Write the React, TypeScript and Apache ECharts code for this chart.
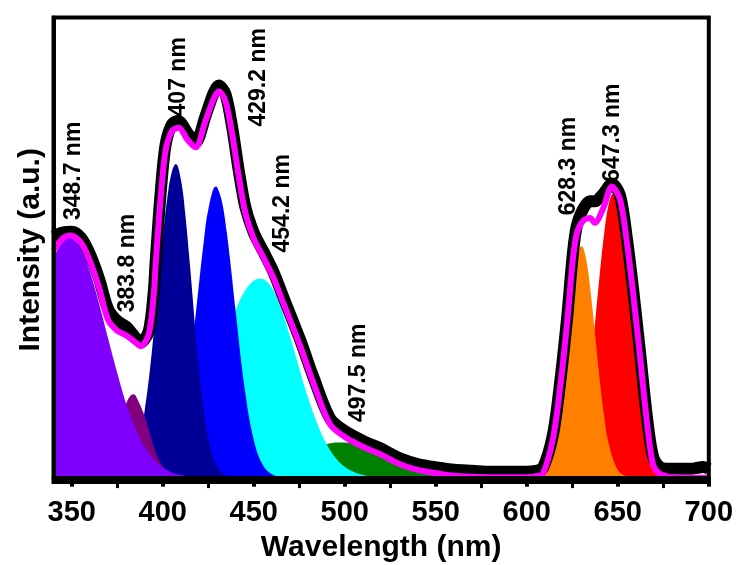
import React, { useEffect, useRef } from "react";
import * as echarts from "echarts";

type Pt = [number, number];

const xTicks = [350, 400, 450, 500, 550, 600, 650, 700];
const xMinorTicks = [375, 425, 475, 525, 575, 625, 675];

// fitted components (wavelength nm, intensity a.u.)
const band349: Pt[] = [[340,224],[345,241],[348.7,245],[350,244.5],[355,234],[360,210],[365,178],[370,142],[375,107],[380,75],[385,50],[390,31.5],[395,18.6],[400,10.4],[405,5.4],[410,2.7],[415,1.2],[420,0.5],[425,0.2],[430,0],[700,0]];
const band384: Pt[] = [[355,0],[360,1],[365,5.4],[370,19.2],[375,46.4],[380,75.9],[383.8,85],[385,84],[390,63],[395,31.9],[400,11],[405,2.5],[410,0.4],[415,0]];
const band407: Pt[] = [[370,0.2],[375,1.4],[380,6.5],[385,24],[390,67.4],[395,146],[400,243.6],[402.5,285],[405,312],[407.2,320],[410,304],[412.5,267],[415,216],[420,111],[425,41],[430,11.2],[435,2.2],[440,0.3],[445,0]];
const band429: Pt[] = [[390,0.2],[395,1.2],[400,5.3],[405,18.8],[410,52],[415,115],[420,199],[422.5,240],[425,273],[429.2,297],[430,296],[432.5,282],[435,253],[437.5,214],[440,171],[445,91.5],[450,38.6],[455,12.9],[460,3.4],[465,0.7],[470,0]];
const band454: Pt[] = [[390,0.7],[395,1.6],[400,3.5],[405,8],[410,16],[415,28],[420,46],[425,72],[430,105],[435,140],[440,170],[445,190],[450,201],[454.2,203],[455,202.8],[460,193.8],[465,172.7],[470,143.7],[475,111.5],[480,80.7],[485,54.5],[490,34.4],[495,20.2],[500,11.1],[505,5.7],[510,2.7],[515,1.2],[520,0.5],[525,0]];
const band498: Pt[] = [[435,0.8],[440,1.6],[445,2.7],[450,4.3],[455,6.5],[460,9.5],[465,13.3],[470,17.6],[475,22.3],[480,27],[485,31],[490,34.1],[495,35.8],[497.5,36],[500,35.8],[505,35],[510,33],[515,29.5],[520,25],[525,20],[530,15],[535,11],[540,7.5],[545,5],[550,3],[555,1.6],[560,0.9],[565,0.5],[570,0]];
const band628: Pt[] = [[600,0],[605,2],[610,10],[612.5,22],[615,40],[617.5,70],[620,112],[622.5,158],[625,200],[627.5,228],[630,236],[632.5,224],[635,191],[637.5,146.5],[640,101],[642.5,63],[645,35],[650,8],[655,1.2],[660,0]];
const band647: Pt[] = [[610,0],[615,0.5],[620,3],[625,13.5],[630,45.3],[632.5,74],[635,112.5],[637.5,158],[640,206],[642.5,249],[645,279],[647.5,290],[650,279],[652.5,249],[655,206],[657.5,158],[660,112.5],[662.5,74],[665,45.3],[670,13.5],[675,3],[680,0.5],[685,0]];

// cumulative fit (magenta)
const fitCurve: Pt[] = [[340,232],[345,244],[349.5,247],[355,240],[360,221],[365,194],[370,161],[375,150],[380,145],[385,138],[388,134],[392.4,147],[395.1,187],[396.1,217],[398.8,284],[401.6,334],[405.2,354],[408.9,357],[413.5,345],[418,337],[423.5,364],[428.1,387],[430.8,394],[434.5,384],[438.2,350],[441.8,307],[445.4,270],[450,244],[455.5,224],[460.8,204],[466.5,177],[475.6,134],[482.7,97],[492.1,54],[501.4,40],[511.8,30],[519.5,24],[529.9,14],[540,8],[552.4,4],[560,2],[570,1],[580,0.5],[600,0.5],[605,1.5],[608.9,4],[614.4,40],[618.2,90],[622.1,157],[625.4,224],[627.6,250],[630.9,262],[634.7,265],[637.4,260],[641.8,274],[646.8,297],[651.2,284],[655,240],[658.3,190],[662.2,124],[666,57],[669.3,14],[673.1,4],[680,0.5],[690,0],[700,0]];

// measured spectrum (black)
const measured: Pt[] = [[340,246],[345,250],[350,251],[355,245],[360,228],[365,203],[370,172],[375,160],[380,154],[385,143],[388,138],[392.4,150],[395.1,190],[396.1,220],[398.8,289],[401.6,340],[405.2,361],[408.5,364],[413.5,352],[418,342],[423.5,369],[428.1,393],[430.8,400],[434.5,391],[438.2,357],[441.8,313],[445.4,276],[450,250],[455.5,230],[460.8,210],[466.5,183],[475.6,140],[482.7,103],[492.1,60],[501.4,46],[511.8,36],[519.5,30],[529.9,20],[540,14],[552.4,10],[560,8],[570,7],[580,6],[590,6],[600,6],[605,7],[608.9,10],[614.4,44],[618.2,95],[622.1,162],[625.4,230],[627.6,258],[630.9,274],[634.7,282],[637.4,282],[641.8,289],[646.8,300],[651.2,288],[655,244],[658.3,194],[662.2,128],[666,62],[669.3,22],[673.1,11],[680,9],[690,9],[697,11],[700,9]];

const peakNames = ["348.7 nm", "383.8 nm", "407 nm", "429.2 nm", "454.2 nm", "497.5 nm", "628.3 nm", "647.3 nm"];
const peakLabelX = [350.4, 379.6, 408, 451.9, 465, 507, 621.9, 646.3];
const peakLabelY = [313, 219, 409, 408.5, 280, 107, 318, 352];

export default function App() {
  const ref = useRef<HTMLDivElement>(null);
  useEffect(() => {
    const chart = echarts.init(ref.current!, null, { renderer: "svg" });
    const font = "'Liberation Sans', Arial, sans-serif";
    const area = (name: string, data: Pt[], color: string, origin: any = "auto") => ({
      name,
      type: "line",
      data,
      smooth: 0.4,
      symbol: "none",
      lineStyle: { width: 0 },
      areaStyle: { color, opacity: 1, origin },
      silent: true,
      z: 2,
    });
    const axisLineStyle = { color: "#000", width: 4 };
    chart.setOption({
      animation: false,
      grid: { left: 53.5, right: 26, top: 17.5, bottom: 73.5, show: true, borderColor: "#000", borderWidth: 4, backgroundColor: "transparent", z: 10 },
      xAxis: [
        {
          type: "value", min: 340, max: 700, position: "bottom",
          name: "Wavelength (nm)", nameLocation: "middle", nameGap: 40,
          nameTextStyle: { fontFamily: font, fontWeight: "bold", fontSize: 30, color: "#000" },
          axisLine: { show: true, lineStyle: axisLineStyle },
          axisTick: { show: true, customValues: xTicks, length: 9, lineStyle: { color: "#000", width: 4 } },
          axisLabel: { show: true, customValues: xTicks, margin: 14, fontFamily: font, fontWeight: "bold", fontSize: 29, color: "#000" },
          splitLine: { show: false },
          z: 10,
        },
        {
          type: "value", min: 340, max: 700, position: "bottom", gridIndex: 0,
          axisLine: { show: false },
          axisTick: { show: true, customValues: xMinorTicks, length: 6, lineStyle: { color: "#000", width: 3 } },
          axisLabel: { show: false },
          splitLine: { show: false },
          z: 10,
        },
      ],
      yAxis: {
        type: "value", min: -4.5, max: 469.5,
        name: "Intensity (a.u.)", nameLocation: "middle", nameGap: 10,
        nameTextStyle: { fontFamily: font, fontWeight: "bold", fontSize: 30, color: "#000" },
        axisLine: { show: true, lineStyle: axisLineStyle },
        axisTick: { show: false },
        axisLabel: { show: false },
        splitLine: { show: false },
        z: 10,
      },
      series: [
        area("647.3", band647, "#FF0000"),
        area("628.3", band628, "#FF8000"),
        area("497.5", band498, "#008000"),
        area("454.2", band454, "#00FFFF"),
        area("429.2", band429, "#0000FF"),
        area("407", band407, "#000099"),
        area("383.8", band384, "#800080"),
        area("348.7", band349, "#8000FF", "start"),
        {
          name: "data", type: "line", data: measured, smooth: 0.3, symbol: "none",
          lineStyle: { color: "#000", width: 12 }, silent: true, z: 3,
        },
        {
          name: "fit", type: "line", data: fitCurve, smooth: 0.3, symbol: "none",
          lineStyle: { color: "#FF00FF", width: 6 }, silent: true, z: 4,
        },
        {
          name: "labels", type: "scatter", symbolSize: 0, silent: true, z: 20,
          itemStyle: { color: "#000" },
          data: peakNames.map((n, i) => ({ name: n, value: [peakLabelX[i], peakLabelY[i]] })),
          label: {
            show: true, formatter: "{b}", position: "inside", rotate: 90,
            fontFamily: font, fontWeight: "bold", fontSize: 23,
            color: "#000", opacity: 1, textBorderWidth: 0, textBorderColor: "transparent",
          },
        },
      ],
    });
    return () => chart.dispose();
  }, []);
  return <div ref={ref} style={{ position: "fixed", left: 0, top: 0, width: 736, height: 565 }} />;
}
